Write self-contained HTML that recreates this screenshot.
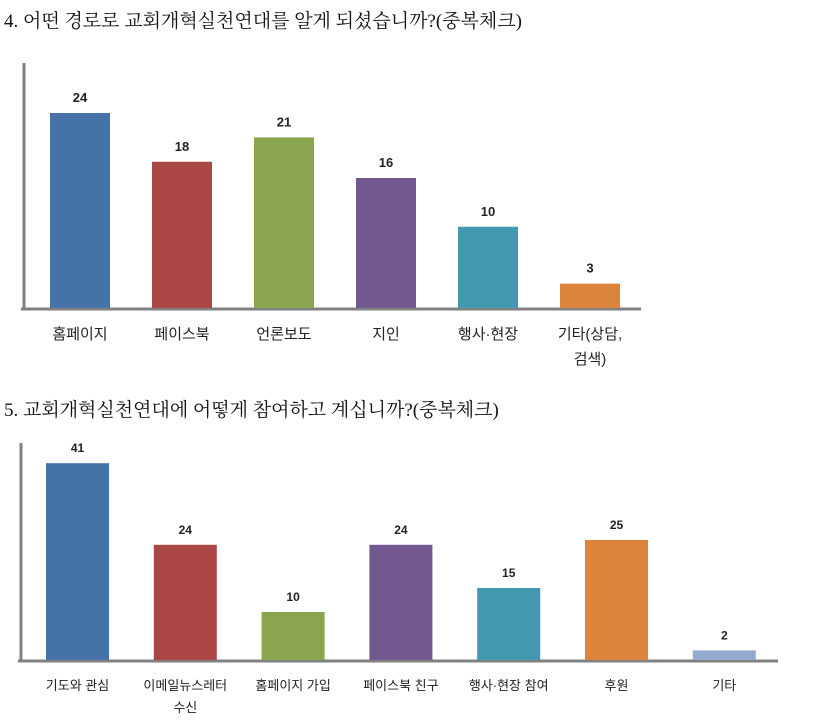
<!DOCTYPE html>
<html><head><meta charset="utf-8">
<style>
body{margin:0;background:#fff;width:835px;height:723px;overflow:hidden;}
.t{position:absolute;left:4px;font-family:"Liberation Serif","Noto Serif CJK SC",serif;font-size:19px;color:#111;white-space:nowrap;}
svg{position:absolute;left:0;top:0;}
</style></head><body>
<div class="t" style="top:6px">4. 어떤 경로로 교회개혁실천연대를 알게 되셨습니까?(중복체크)</div>
<div class="t" style="top:395px">5. 교회개혁실천연대에 어떻게 참여하고 계십니까?(중복체크)</div>
<svg id="s" width="835" height="723"></svg>
<script>
const cats1 = [["홈페이지"],["페이스북"],["언론보도"],["지인"],["행사·현장"],["기타(상담,","검색)"]];
const vals1 = [24,18,21,16,10,3];
const cats2 = [["기도와 관심"],["이메일뉴스레터","수신"],["홈페이지 가입"],["페이스북 친구"],["행사·현장 참여"],["후원"],["기타"]];
const vals2 = [41,24,10,24,15,25,2];
const colors1 = ["#4572a7","#aa4643","#89a54e","#71588f","#4198af","#db843d"];
const colors2 = ["#4572a7","#aa4643","#89a54e","#71588f","#4198af","#db843d","#93a9cf"];
const svg = document.getElementById('s');
const NS = "http://www.w3.org/2000/svg";
function mk(tag, attrs){const e=document.createElementNS(NS,tag);for(const k in attrs)e.setAttribute(k,attrs[k]);svg.appendChild(e);return e;}
function chart(cats, vals, colors, o, prefix){
  const y = v => o.base - v*o.scale;
  const x = i => o.x0 + i*o.step;
  const ax = mk('line',{x1:o.axX,y1:o.axTop,x2:o.axX,y2:o.base,stroke:'#808080','stroke-width':3});
  
  
  const bx = mk('line',{x1:o.axX-3,y1:o.base+1,x2:o.axEnd,y2:o.base+1,stroke:'#808080','stroke-width':3});
  
  
  vals.forEach((v,i)=>{
    const r = mk('rect',{x:x(i),y:y(v),width:o.bw,height:o.base-y(v),fill:colors[i]});
    
    
    const t = mk('text',{x:x(i)+o.bw/2,y:y(v)-11,'text-anchor':'middle','font-family':'Liberation Sans, sans-serif','font-size':o.vfs,'font-weight':'bold',fill:'#222'});
    t.textContent = v;
    
    
    cats[i].forEach((line,j)=>{
      const c = mk('text',{x:x(i)+o.bw/2,y:o.labY+j*o.lh,'text-anchor':'middle','font-family':'Liberation Sans, Noto Sans CJK KR, sans-serif','font-size':o.lfs,fill:'#222'});
      c.textContent = line;
      
      
    });
  });
}
chart(cats1, vals1, colors1, {base:308, scale:8.125, x0:50, step:102, bw:60, axX:24, axTop:63, axEnd:641, labY:339, lh:25, vfs:13, lfs:15}, 'q4');
chart(cats2, vals2, colors2, {base:660, scale:4.8, x0:46, step:107.8, bw:63, axX:21, axTop:443, axEnd:778, labY:690, lh:22, vfs:12, lfs:13}, 'q5');
</script>
</body></html>
